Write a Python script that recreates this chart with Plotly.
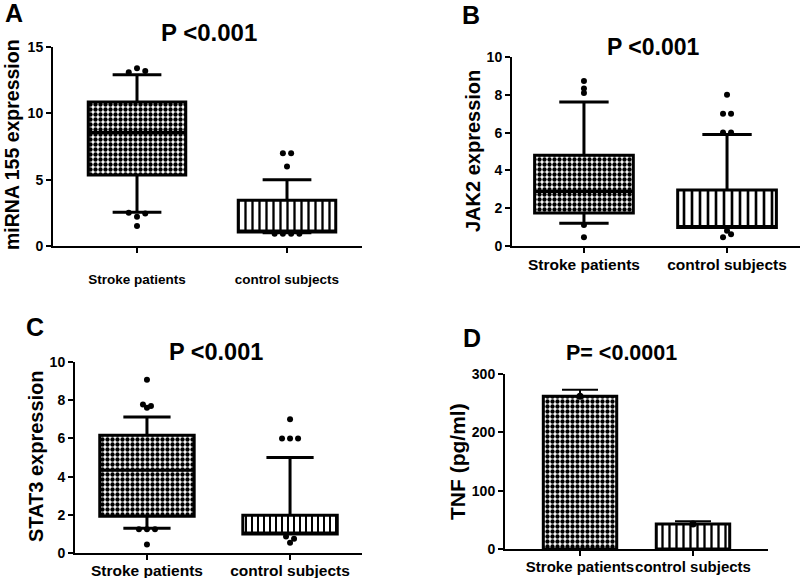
import plotly.graph_objects as go

FONT = "Arial, 'Liberation Sans', Helvetica, sans-serif"

categories = ["Stroke patients", "control subjects"]

# ---- Panel A: miRNA 155 expression (box plot) ----
a_q1 = [5.35, 1.05]
a_median = [8.55, 1.05]
a_q3 = [10.85, 3.45]
a_low = [2.55, 1.0]
a_high = [12.9, 5.0]
a_outliers = [
    [[13.1, 13.4, 13.2], [2.5, 2.2, 2.45], [1.5]],
    [[7.0, 7.0], [6.0], [0.93, 0.93, 0.93, 0.93]],
]

# ---- Panel B: JAK2 expression ----
b_q1 = [1.75, 0.98]
b_median = [2.88, 0.98]
b_q3 = [4.8, 2.96]
b_low = [1.2, 0.98]
b_high = [7.62, 5.9]
b_outliers = [
    [[8.73], [8.33], [8.1], [1.11], [0.46]],
    [[8.0], [7.0, 7.0], [6.0, 6.0], [0.81], [0.46, 0.62]],
]

# ---- Panel C: STAT3 expression ----
c_q1 = [1.92, 1.0]
c_median = [4.33, 1.0]
c_q3 = [6.16, 1.97]
c_low = [1.3, 1.0]
c_high = [7.12, 5.0]
c_outliers = [
    [[9.07], [7.78, 7.69], [7.6], [1.24, 1.24, 1.24], [0.44]],
    [[7.0], [6.0, 6.0, 6.0], [0.87, 0.75], [0.54]],
]

# ---- Panel D: TNF (pg/ml), mean + SEM ----
d_mean = [262, 43]
d_sem = [11, 4.5]

fig = go.Figure()

W, H = 800, 578


def xd(a, b):
    return [a / W, min(b / W, 1.0)]


def yd(top, bottom):
    return [1 - bottom / H, 1 - top / H]


panels = [
    dict(key="", q1=a_q1, med=a_median, q3=a_q3, lo=a_low, hi=a_high, out=a_outliers,
         xdom=xd(53, 362), ydom=yd(47, 246), xr=[-0.56, 1.5], yr=[0, 15], dtick=5,
         bw=0.65, spacing=0.055, xfont=13.5, yfont=14, standoff=15, stripe=7),
    dict(key="2", q1=b_q1, med=b_median, q3=b_q3, lo=b_low, hi=b_high, out=b_outliers,
         xdom=xd(512, 800), ydom=yd(57, 246), xr=[-0.503, 1.51], yr=[0, 10], dtick=2,
         bw=0.69, spacing=0.056, xfont=15.5, yfont=14, standoff=-2, stripe=8),
    dict(key="3", q1=c_q1, med=c_median, q3=c_q3, lo=c_low, hi=c_high, out=c_outliers,
         xdom=xd(75, 362), ydom=yd(362, 553), xr=[-0.503, 1.503], yr=[0, 10], dtick=2,
         bw=0.66, spacing=0.056, xfont=15.5, yfont=14, standoff=-3, stripe=6),
]

pos = list(range(len(categories)))
checker = dict(shape=".", size=5, solidity=0.6, fgcolor="black", bgcolor="white", fillmode="replace")


def stripes(sz):
    return dict(shape="|", size=sz, solidity=0.33, fgcolor="black", bgcolor="white", fillmode="replace")


axis_common = dict(showline=True, linecolor="black", linewidth=2, ticks="outside",
                   tickwidth=2, ticklen=5, tickcolor="black", showgrid=False, zeroline=False,
                   fixedrange=True, automargin=False)

for p in panels:
    k = p["key"]
    xa, ya = "x" + k, "y" + k
    # patterned box bodies, one bar per group so each gets its own pattern
    for i, pat in zip(pos, [checker, stripes(p["stripe"])]):
        fig.add_trace(go.Bar(
            x=[i], y=[p["q3"][i] - p["q1"][i]], base=[p["q1"][i]],
            width=p["bw"], xaxis=xa, yaxis=ya, showlegend=False, hoverinfo="skip",
            marker=dict(color="white", line=dict(width=0), pattern=pat),
        ))
    # box outlines, medians, whiskers
    fig.add_trace(go.Box(
        x=pos, q1=p["q1"], median=p["med"], q3=p["q3"],
        lowerfence=p["lo"], upperfence=p["hi"], width=p["bw"],
        whiskerwidth=0.5, fillcolor="rgba(0,0,0,0)", boxpoints=False,
        line=dict(color="black", width=3), xaxis=xa, yaxis=ya,
        showlegend=False, hoverinfo="skip",
    ))
    # outliers
    ox, oy = [], []
    for i, rows in zip(pos, p["out"]):
        for row in rows:
            n = len(row)
            for j, v in enumerate(row):
                ox.append(i + (j - (n - 1) / 2) * p["spacing"])
                oy.append(v)
    fig.add_trace(go.Scatter(
        x=ox, y=oy, mode="markers", xaxis=xa, yaxis=ya, showlegend=False,
        marker=dict(color="black", size=6), cliponaxis=False, hoverinfo="skip",
    ))
    xkey = "xaxis" + k
    ykey = "yaxis" + k
    fig.update_layout({
        xkey: dict(axis_common, domain=p["xdom"], range=p["xr"], anchor=ya,
                   tickmode="array", tickvals=pos, ticktext=categories, tickangle=0,
                   ticklabelstandoff=p["standoff"],
                   tickfont=dict(family=FONT, size=p["xfont"], color="black", weight="bold")),
        ykey: dict(axis_common, domain=p["ydom"], range=p["yr"], anchor=xa,
                   dtick=p["dtick"], tick0=0,
                   tickfont=dict(family=FONT, size=p["yfont"], color="black", weight="bold")),
    })

# ---- Panel D bars ----
for i, pat in zip(pos, [checker, stripes(7)]):
    fig.add_trace(go.Bar(
        x=[i], y=[d_mean[i]], width=0.65, xaxis="x4", yaxis="y4", showlegend=False,
        marker=dict(color="white", line=dict(color="black", width=3), pattern=pat),
        error_y=dict(type="data", symmetric=False, array=[d_sem[i]], arrayminus=[0],
                     color="black", thickness=2, width=18),
        hoverinfo="skip",
    ))
fig.add_trace(go.Scatter(
    x=pos, y=d_mean, mode="markers", xaxis="x4", yaxis="y4", showlegend=False,
    marker=dict(color="black", size=7), cliponaxis=False, hoverinfo="skip",
))
fig.update_layout(
    xaxis4=dict(axis_common, domain=xd(505, 768), range=[-0.664, 1.664], anchor="y4",
                tickmode="array", tickvals=pos, ticktext=categories, ticklabelstandoff=-2,
                tickangle=0,
                tickfont=dict(family=FONT, size=15, color="black", weight="bold")),
    yaxis4=dict(axis_common, domain=yd(374, 549), range=[0, 300], anchor="x4",
                dtick=100, tick0=0,
                tickfont=dict(family=FONT, size=14, color="black", weight="bold")),
)

# ---- Text: titles, panel letters, y-axis titles ----
texts = [
    ("P <0.001", 209, 33, 24, 0), ("P <0.001", 653, 47, 23, 0),
    ("P <0.001", 216, 352, 23.5, 0), ("P= <0.0001", 621, 353, 21.5, 0),
    ("A", 14, 13, 25, 0), ("B", 471, 15, 25, 0), ("C", 35, 327, 25, 0), ("D", 472, 338, 25, 0),
    ("miRNA 155 expression", 12, 145, 19.5, -90), ("JAK2 expression", 473, 151, 20, -90),
    ("STAT3 expression", 36, 456, 20, -90), ("TNF (pg/ml)", 457, 462, 21, -90),
]
ann = []
for t, x, y, s, ang in texts:
    ann.append(dict(text=t, x=x / W, y=1 - y / H, xref="paper", yref="paper",
                    xanchor="center", yanchor="middle", showarrow=False, textangle=ang,
                    font=dict(family=FONT, size=s, color="black", weight="bold")))

fig.update_layout(
    template="none",
    width=W, height=H, margin=dict(l=0, r=0, t=0, b=0, pad=0),
    paper_bgcolor="white", plot_bgcolor="white", annotations=ann,
    barmode="overlay", boxmode="overlay",
)

fig.write_html("out.html", config={"displayModeBar": False},
               post_script="document.body.style.margin='0px';document.body.style.overflow='hidden';")
